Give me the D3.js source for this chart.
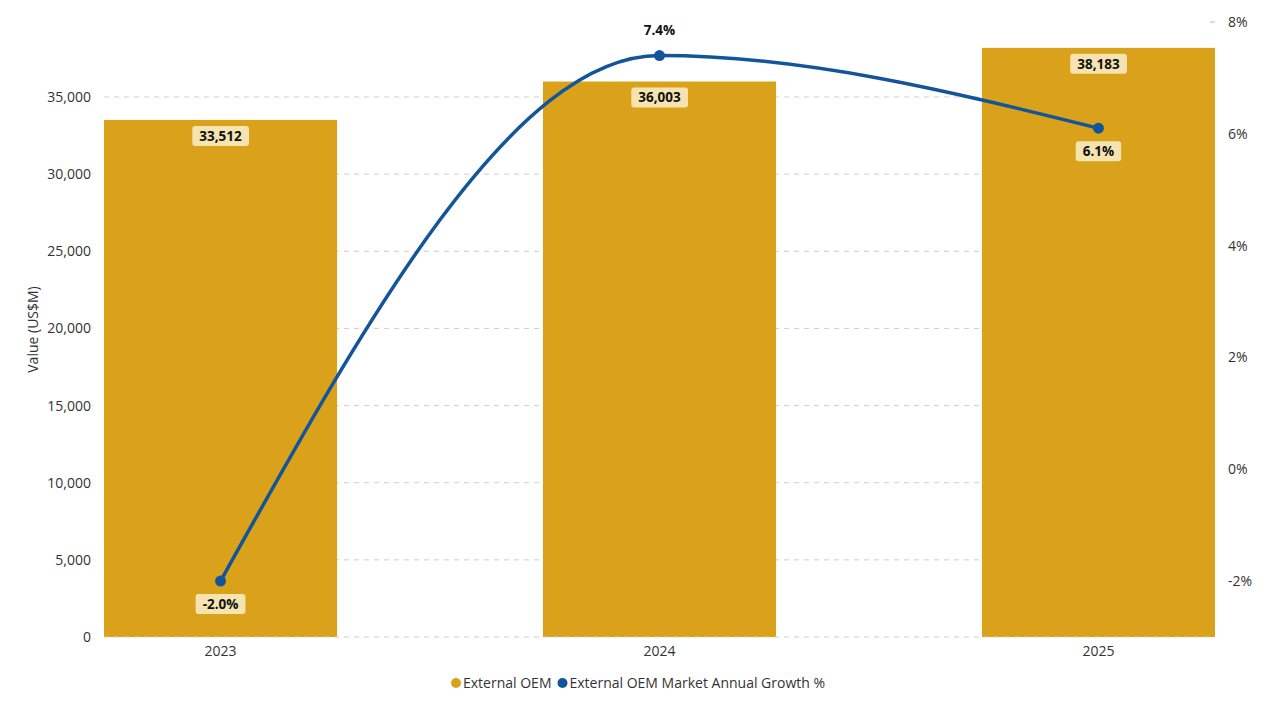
<!DOCTYPE html>
<html>
<head>
<meta charset="utf-8">
<script src="https://cdn.jsdelivr.net/npm/d3@7"></script>
<style>
html,body{margin:0;padding:0;background:#fff;}
svg{display:block;font-family:"Segoe UI","Open Sans","Noto Sans",sans-serif;}
</style>
</head>
<body>
<svg id="chart" width="1265" height="715"></svg>
<script>
const categories = ["2023", "2024", "2025"];
const oemValues = [33512, 36003, 38183];
const growthValues = [-2.0, 7.4, 6.1];
const leftTicks = [0, 5000, 10000, 15000, 20000, 25000, 30000, 35000];
const rightTicks = [-2, 0, 2, 4, 6, 8];
const seriesNames = ["External OEM", "External OEM Market Annual Growth %"];

const barColor = "#DAA21A";
const lineColor = "#13559A";
const labelBg = "#F6E4B0";
const FONT = "'Segoe UI','Open Sans','Noto Sans',sans-serif";

const W = 1265, H = 715;
const m = {left: 104, right: 50, top: 22, bottom: 78};
const svg = d3.select("#chart");
const iw = W - m.left - m.right, ih = H - m.top - m.bottom;

const x = d3.scaleBand().domain(categories).range([m.left, m.left + iw]).paddingInner(0.469).paddingOuter(0);
const yL = d3.scaleLinear().domain([0, 39860]).range([m.top + ih, m.top]);
const yR = d3.scaleLinear().domain([-3, 8]).range([m.top + ih, m.top]);

// gridlines (behind bars)
svg.append("g").selectAll("line").data(leftTicks.filter(d => d > 0)).join("line")
  .attr("x1", m.left).attr("x2", m.left + iw)
  .attr("y1", d => yL(d)).attr("y2", d => yL(d))
  .attr("stroke", "#cfcfcf").attr("stroke-dasharray", "5,5");

// bars
svg.append("g").selectAll("rect").data(oemValues).join("rect")
  .attr("x", (d, i) => x(categories[i]))
  .attr("width", x.bandwidth())
  .attr("y", d => yL(d))
  .attr("height", d => yL(0) - yL(d))
  .attr("fill", barColor);

// zero line
svg.append("line").attr("x1", m.left).attr("x2", m.left + iw)
  .attr("y1", yL(0)).attr("y2", yL(0))
  .attr("stroke", "#cfcfcf").attr("stroke-dasharray", "5,5");

// left axis
const axL = svg.append("g").attr("transform", `translate(${m.left - 10},0)`)
  .call(d3.axisLeft(yL).tickValues(leftTicks).tickFormat(d3.format(",")).tickSize(0));
axL.select(".domain").remove();
axL.selectAll("text").attr("font-size", 14).attr("fill", "#333").attr("font-family", FONT);

// right axis
const axR = svg.append("g").attr("transform", `translate(${m.left + iw + 10},0)`)
  .call(d3.axisRight(yR).tickValues(rightTicks).tickFormat(d => d + "%").tickSize(0));
axR.select(".domain").remove();
axR.selectAll("text").attr("font-size", 14).attr("fill", "#333").attr("font-family", FONT);
svg.append("line").attr("x1", m.left + iw - 5).attr("x2", m.left + iw)
  .attr("y1", yR(8)).attr("y2", yR(8)).attr("stroke", "#bbb");

// x axis
const axX = svg.append("g").attr("transform", `translate(0,${m.top + ih + 6})`)
  .call(d3.axisBottom(x).tickSize(0));
axX.select(".domain").remove();
axX.selectAll("text").attr("font-size", 14).attr("fill", "#333").attr("font-family", FONT);

// y title
svg.append("text").attr("transform", `translate(38,${m.top + ih / 2}) rotate(-90)`)
  .attr("text-anchor", "middle").attr("font-size", 14).attr("fill", "#333").text("Value (US$M)");

// line
const cx = (i) => x(categories[i]) + x.bandwidth() / 2;
const line = d3.line().x((d, i) => cx(i)).y(d => yR(d)).curve(d3.curveMonotoneX);
svg.append("path").datum(growthValues).attr("d", line)
  .attr("fill", "none").attr("stroke", lineColor).attr("stroke-width", 3.5);
svg.append("g").selectAll("circle").data(growthValues).join("circle")
  .attr("cx", (d, i) => cx(i)).attr("cy", d => yR(d)).attr("r", 5.5).attr("fill", lineColor);

// label helper
function boxLabel(g, text, xc, yc, bg) {
  const t = g.append("text").attr("x", xc).attr("y", yc).attr("dy", "0.35em")
    .attr("text-anchor", "middle").attr("font-size", 13.5).attr("font-weight", "bold").attr("fill", "#111").text(text);
  if (bg) {
    const b = t.node().getBBox();
    g.insert("rect", "text").attr("x", b.x - 7).attr("y", yc - 10).attr("width", b.width + 14).attr("height", 20)
      .attr("rx", 3).attr("fill", bg);
  }
}
const lg = svg.append("g");
oemValues.forEach((v, i) => {
  const g = lg.append("g");
  boxLabel(g, d3.format(",")(v), cx(i), yL(v) + 16, labelBg);
});
growthValues.forEach((v, i) => {
  const g = lg.append("g");
  const above = i === 1;
  const yc = above ? yR(v) - 25 : yR(v) + 23;
  boxLabel(g, v.toFixed(1) + "%", cx(i), yc, above ? null : labelBg);
});

// legend
const legend = svg.append("g");
const ly = 683;
let lx = 451;
seriesNames.forEach((n, i) => {
  legend.append("circle").attr("cx", lx + 5).attr("cy", ly).attr("r", 5).attr("fill", i === 0 ? barColor : lineColor);
  const t = legend.append("text").attr("x", lx + 12).attr("y", ly).attr("dy", "0.35em")
    .attr("font-size", 14).attr("fill", "#333").text(n);
  lx += 12 + t.node().getComputedTextLength() + 6;
});
</script>
</body>
</html>
